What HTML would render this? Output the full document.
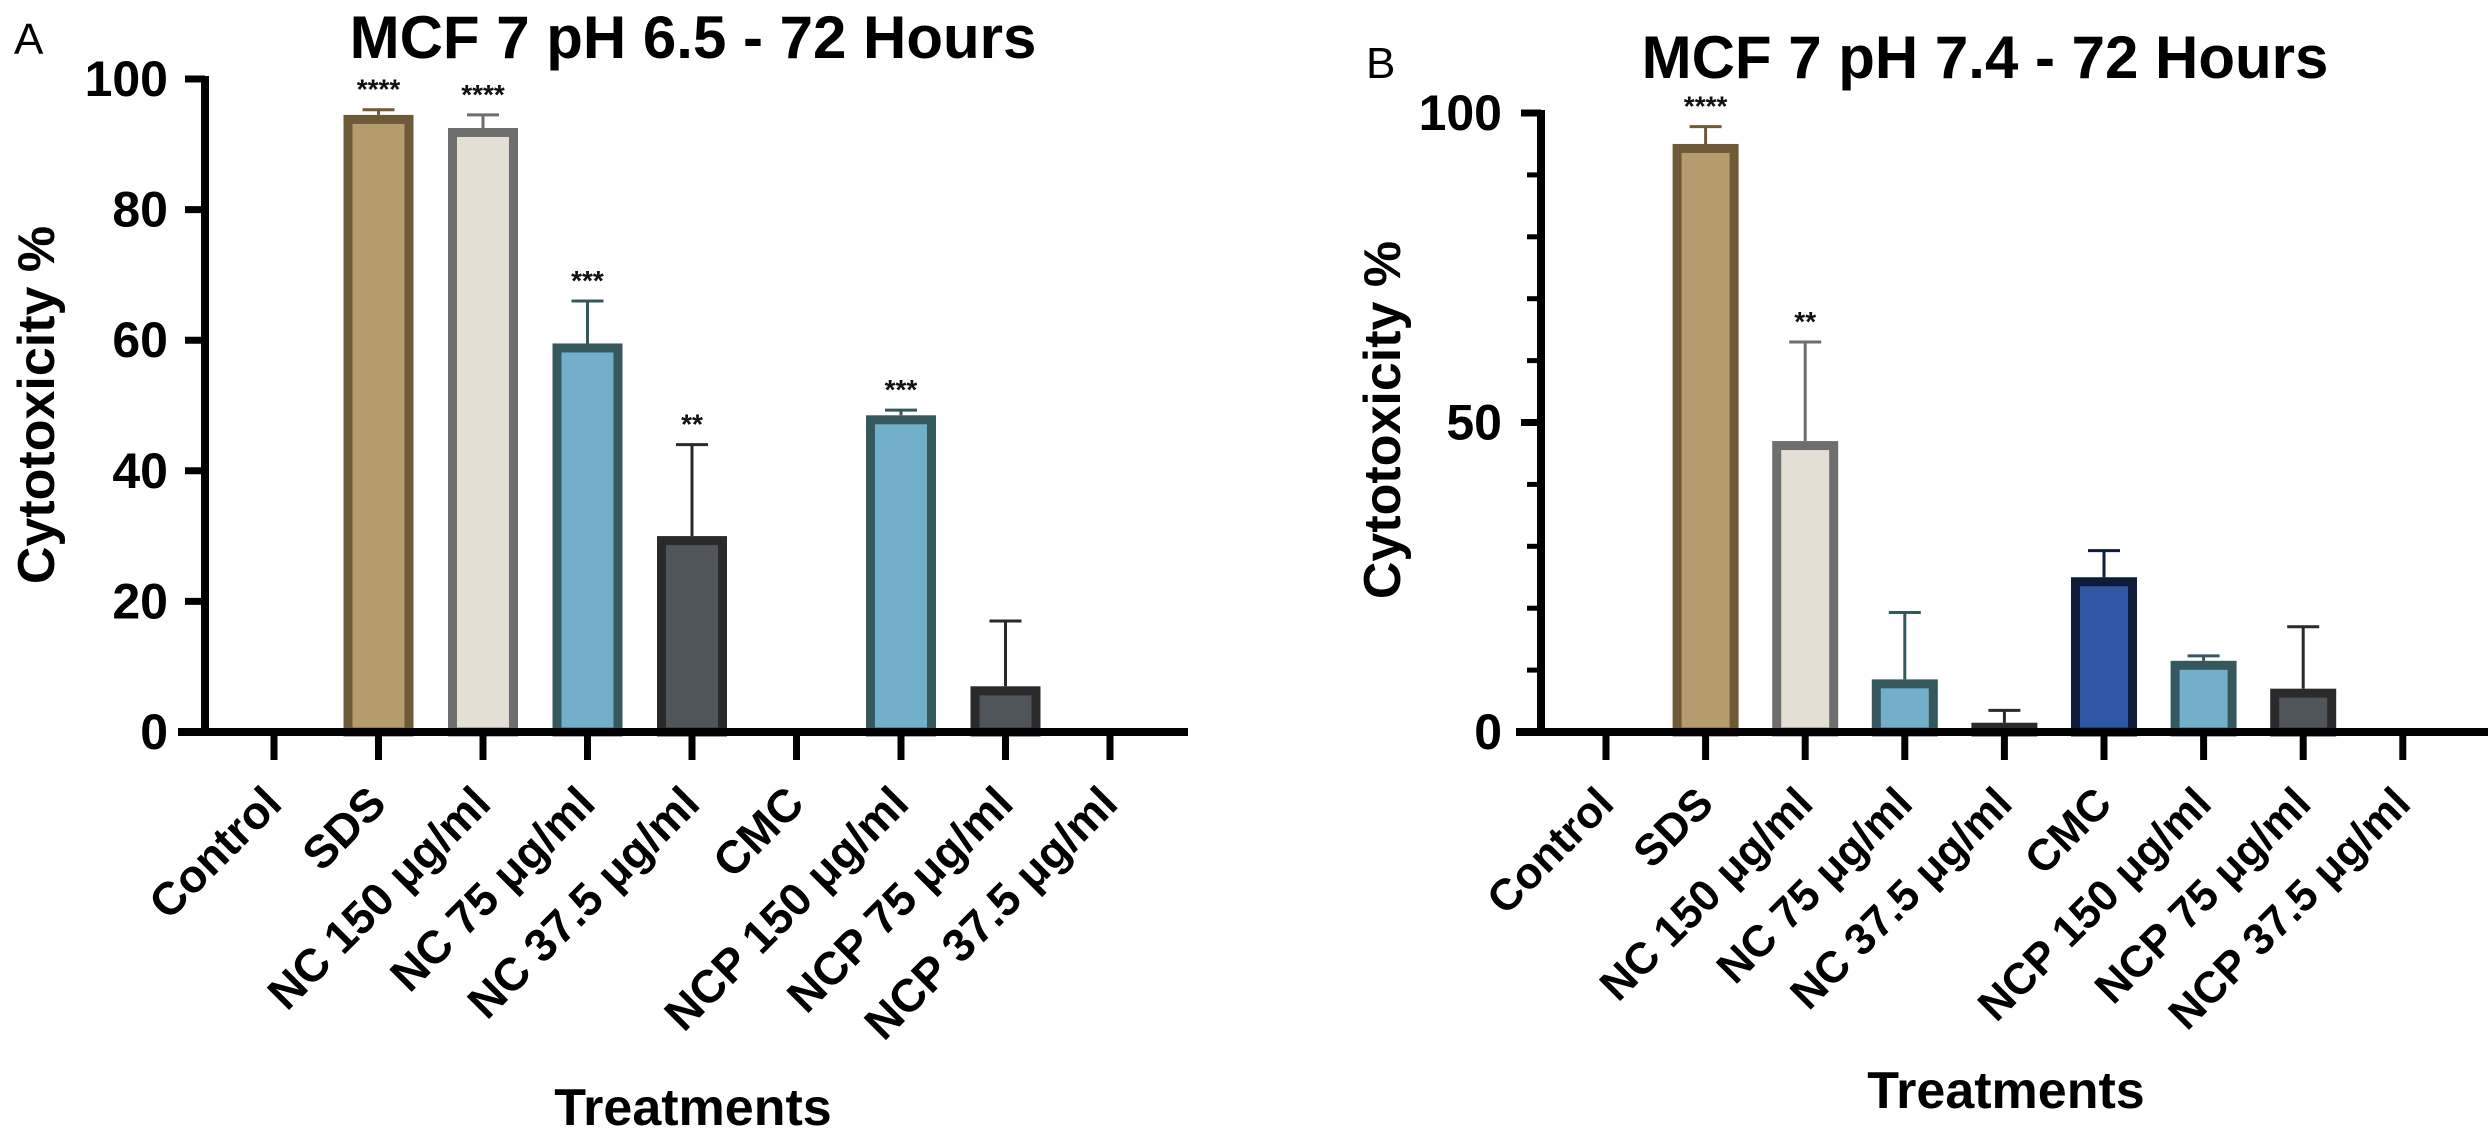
<!DOCTYPE html>
<html><head><meta charset="utf-8"><style>
html,body{margin:0;padding:0;background:#fff;}
svg{display:block;font-family:"Liberation Sans",Arial,sans-serif;}
</style></head><body>
<svg id="fig" width="2488" height="1148" viewBox="0 0 2488 1148"></svg>
<script>
const categories = ["Control","SDS","NC 150 μg/ml","NC 75 μg/ml","NC 37.5 μg/ml","CMC","NCP 150 μg/ml","NCP 75 μg/ml","NCP 37.5 μg/ml"];
const valuesA = [0, 94.5, 92.5, 59.5, 30, 0, 48.5, 7, 0];
const errorsA = [0, 0.8, 2.0, 6.5, 14, 0, 0.8, 10, 0];
const starsA = ["", "****", "****", "***", "**", "", "***", "", ""];
const valuesB = [0, 95, 47, 8.5, 1.5, 25, 11.5, 7, 0];
const errorsB = [0, 2.8, 16, 10.8, 2.0, 4.3, 0.8, 10, 0];
const starsB = ["", "****", "**", "", "", "", "", "", ""];
const ticksA = [0, 20, 40, 60, 80, 100];
const ticksB = [0, 50, 100];
const minorB = [10, 20, 30, 40, 60, 70, 80, 90];

const fills = ["#b59b6e","#b59b6e","#e3dfd5","#72afca","#50545b","#2f57a3","#72afca","#50545b","#50545b"];
const strokes = ["#6e5a36","#6e5a36","#6e6e6e","#35585f","#2a2a2a","#0d1c3a","#35585f","#2a2a2a","#2a2a2a"];

const NS = "http://www.w3.org/2000/svg";
const svg = document.getElementById("fig");
function mk(tag, attrs, parent, text) {
  const e = document.createElementNS(NS, tag);
  for (const k in attrs) e.setAttribute(k, attrs[k]);
  if (text !== undefined) e.textContent = text;
  (parent || svg).appendChild(e);
  return e;
}

function panel(cfg) {
  const g = mk("g", {});
  
  
  const yS = v => cfg.y0 - (v / 100) * (cfg.y0 - cfg.y100);
  const xS = i => cfg.x0tick + i * cfg.step;

  cfg.values.forEach((v, i) => {
    if (v <= 0) return;
    const bw = cfg.bw, bwd = 9;
    const top = yS(v);
    const r = mk("rect", {x: xS(i) - bw/2 + bwd/2, y: top + bwd/2, width: bw - bwd, height: cfg.y0 - top - bwd/2,
      fill: fills[i], stroke: strokes[i], "stroke-width": bwd}, g);
    
    
    const e = cfg.errors[i];
    if (e > 0) {
      const et = yS(v + e);
      const l = mk("path", {d: `M${xS(i)},${top} V${et} M${xS(i)-16},${et} H${xS(i)+16}`, stroke: strokes[i], "stroke-width": 3, fill: "none"}, g);
      
      
    }
    if (cfg.stars[i]) {
      const s = mk("text", {x: xS(i), y: yS(v + e) - 11, "text-anchor": "middle", "font-size": 28, "font-weight": "bold", fill: "#111"}, g, cfg.stars[i]);
      
      
    }
  });

  const ya = mk("line", {x1: cfg.ax, y1: cfg.y100 - 3, x2: cfg.ax, y2: cfg.y0 + 4, stroke: "#000", "stroke-width": 8}, g);
  
  
  const xa = mk("line", {x1: cfg.xstart, y1: cfg.y0, x2: cfg.xend, y2: cfg.y0, stroke: "#000", "stroke-width": 8}, g);
  
  

  cfg.ticks.forEach(t => {
    if (t > 0) mk("line", {x1: cfg.ax - 20, y1: yS(t), x2: cfg.ax, y2: yS(t), stroke: "#000", "stroke-width": 7}, g);
    const tl = mk("text", {x: cfg.labelRight, y: yS(t) + 17, "text-anchor": "end", "font-size": 50, "font-weight": "bold"}, g, t);
    
    
  });
  (cfg.minor || []).forEach(t => {
    mk("line", {x1: cfg.ax - 14, y1: yS(t), x2: cfg.ax, y2: yS(t), stroke: "#000", "stroke-width": 5}, g);
  });

  categories.forEach((c, i) => {
    mk("line", {x1: xS(i), y1: cfg.y0, x2: xS(i), y2: cfg.y0 + 28, stroke: "#000", "stroke-width": 7}, g);
    const ax = xS(i) + 10, ay = 806;
    const tl = mk("text", {x: ax, y: ay, "text-anchor": "end", "font-size": cfg.labelSize, "font-weight": "bold", transform: `rotate(-45 ${ax} ${ay})`}, g, c);
    
    
  });

  const title = mk("text", {x: cfg.titleX, y: cfg.titleY, "text-anchor": "middle", "font-size": 60, "font-weight": "bold"}, g, cfg.title);
  
  
  const letter = mk("text", {x: cfg.letterX, y: cfg.letterY, "font-size": 44}, g, cfg.letter);
  
  
  const yt = mk("text", {x: cfg.ytX, y: cfg.ytY, "text-anchor": "middle", "font-size": 52, "font-weight": "bold", transform: `rotate(-90 ${cfg.ytX} ${cfg.ytY})`}, g, "Cytotoxicity %");
  
  
  const xt = mk("text", {x: cfg.xtX, y: cfg.xtY, "text-anchor": "middle", "font-size": 52, "font-weight": "bold"}, g, "Treatments");
  
  
}

panel({id: "a", values: valuesA, errors: errorsA, stars: starsA, ticks: ticksA,
  ax: 205, xstart: 178, xend: 1188, y0: 732, y100: 79, x0tick: 274, step: 104.5, bw: 70,
  labelRight: 168, labelSize: 46, title: "MCF 7 pH 6.5 - 72 Hours", titleX: 693, titleY: 58,
  letter: "A", letterX: 14, letterY: 54, ytX: 54, ytY: 405, xtX: 693, xtY: 1125});
panel({id: "b", values: valuesB, errors: errorsB, stars: starsB, ticks: ticksB, minor: minorB,
  ax: 1541, xstart: 1516, xend: 2488, y0: 732, y100: 113, x0tick: 1606, step: 99.6, bw: 66,
  labelRight: 1502, labelSize: 44, title: "MCF 7 pH 7.4 - 72 Hours", titleX: 1985, titleY: 78,
  letter: "B", letterX: 1366, letterY: 78, ytX: 1400, ytY: 420, xtX: 2006, xtY: 1108});
</script>
</body></html>
